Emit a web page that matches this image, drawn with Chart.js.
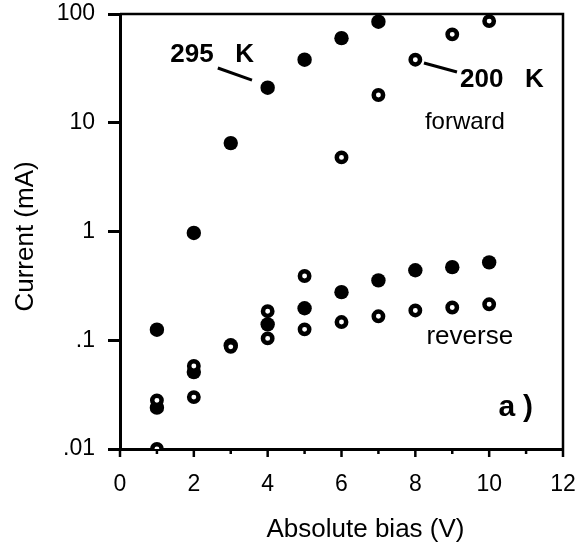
<!DOCTYPE html>
<html><head><meta charset="utf-8">
<script src="https://cdn.jsdelivr.net/npm/chart.js@4/dist/chart.umd.min.js"></script>
<style>html,body{margin:0;padding:0;background:#fff}</style>
</head><body>
<canvas id="c" width="578" height="546" style="display:block;width:578px;height:546px"></canvas>
<script>
// ---- data ----
const fwd295X = [1, 2, 3, 4, 5, 6, 7];
const fwd295Y = [0.125, 0.97, 6.5, 21, 38, 60, 85];
const rev295X = [1, 2, 3, 4, 5, 6, 7, 8, 9, 10];
const rev295Y = [0.024, 0.051, 0.09, 0.14, 0.197, 0.277, 0.355, 0.44, 0.47, 0.52];
const fwd200X = [1, 2, 3, 4, 5, 6, 7, 8, 9, 10];
const fwd200Y = [0.01, 0.058, 0.087, 0.185, 0.39, 4.8, 18, 38, 65, 86];
const rev200X = [1, 2, 4, 5, 6, 7, 8, 9, 10];
const rev200Y = [0.028, 0.030, 0.104, 0.126, 0.147, 0.166, 0.188, 0.20, 0.214];
const yTickValues = [0.01, 0.1, 1, 10, 100];
const yTickLabels = ['.01', '.1', '1', '10', '100'];
const xTickValues = [0, 2, 4, 6, 8, 10, 12];
const xTickLabels = ['0', '2', '4', '6', '8', '10', '12'];
const xTitle = 'Absolute bias (V)';
const yTitle = 'Current (mA)';

const FONT = '"Liberation Sans", Arial, Helvetica, sans-serif';
const pts = (xs, ys) => xs.map((x, i) => ({x: x, y: ys[i]}));

const openStyle = {pointRadius: 4.7, pointBorderWidth: 4.5, pointBackgroundColor: '#fff', pointBorderColor: '#000', showLine: false};
const filledStyle = {pointRadius: 7.2, pointBorderWidth: 0, pointBackgroundColor: '#000', pointBorderColor: '#000', showLine: false};

// annotations (in data units)
const notes = [
  {text: '295   K', x: 1.36, y: 42, font: 'bold 26px ' + FONT, spacing: '0px'},
  {text: '200   K', x: 9.21, y: 24.7, font: 'bold 26px ' + FONT, spacing: '0px'},
  {text: 'forward', x: 8.26, y: 10, font: '24px ' + FONT, spacing: '0px'},
  {text: 'reverse', x: 8.3, y: 0.107, font: '26px ' + FONT, spacing: '0px'},
  {text: 'a)', x: 10.25, y: 0.0238, font: 'bold 30px ' + FONT, spacing: '8px'}
];
const leaders = [
  {x1: 2.65, y1: 31.9, x2: 3.575, y2: 24.7},
  {x1: 8.234, y1: 35.4, x2: 9.128, y2: 29.3}
];

const decor = {
  id: 'decor',
  afterDatasetsDraw(chart) {
    const ctx = chart.ctx, a = chart.chartArea;
    const xs = chart.scales.x, ys = chart.scales.y;
    ctx.save();
    // frame top & right
    ctx.strokeStyle = '#000';
    ctx.lineWidth = 2.5;
    ctx.beginPath();
    ctx.moveTo(a.left, a.top); ctx.lineTo(a.right, a.top); ctx.lineTo(a.right, a.bottom);
    ctx.stroke();
    // x ticks (major even, minor odd)
    for (let v = 0; v <= 12; v++) {
      const px = xs.getPixelForValue(v);
      const len = v % 2 === 0 ? 8 : 5;
      ctx.beginPath(); ctx.moveTo(px, a.bottom); ctx.lineTo(px, a.bottom + len); ctx.stroke();
    }
    // leader lines
    ctx.lineWidth = 3;
    leaders.forEach(l => {
      ctx.beginPath();
      ctx.moveTo(xs.getPixelForValue(l.x1), ys.getPixelForValue(l.y1));
      ctx.lineTo(xs.getPixelForValue(l.x2), ys.getPixelForValue(l.y2));
      ctx.stroke();
    });
    // text notes
    ctx.fillStyle = '#000';
    ctx.textAlign = 'left';
    ctx.textBaseline = 'middle';
    notes.forEach(n => {
      ctx.font = n.font;
      ctx.letterSpacing = n.spacing;
      ctx.fillText(n.text, xs.getPixelForValue(n.x), ys.getPixelForValue(n.y));
    });
    // axis titles
    ctx.letterSpacing = '0px';
    ctx.font = '26px ' + FONT;
    ctx.textAlign = 'center';
    ctx.fillText(xTitle, xs.getPixelForValue(6.65), 530);
    ctx.save();
    ctx.translate(26, ys.getPixelForValue(0.9));
    ctx.rotate(-Math.PI / 2);
    ctx.fillText(yTitle, 0, 0);
    ctx.restore();
    ctx.restore();
  }
};

new Chart(document.getElementById('c'), {
  type: 'scatter',
  data: {
    datasets: [
      Object.assign({label: '200 K forward', data: pts(fwd200X, fwd200Y)}, openStyle),
      Object.assign({label: '200 K reverse', data: pts(rev200X, rev200Y)}, openStyle),
      Object.assign({label: '295 K forward', data: pts(fwd295X, fwd295Y)}, filledStyle),
      Object.assign({label: '295 K reverse', data: pts(rev295X, rev295Y)}, filledStyle)
    ]
  },
  options: {
    responsive: false,
    animation: false,
    devicePixelRatio: 1,
    layout: {padding: {top: 14, right: 15, left: 0, bottom: 0}},
    plugins: {legend: {display: false}, tooltip: {enabled: false}},
    scales: {
      x: {
        type: 'linear', min: 0, max: 12,
        afterFit(s) { s.height = 97; s.paddingLeft = 0; s.paddingRight = 0; },
        afterBuildTicks(s) { s.ticks = xTickValues.map(v => ({value: v})); },
        grid: {display: false, drawTicks: true, tickLength: 8},
        border: {display: true, color: '#000', width: 3},
        ticks: {
          color: '#000', padding: 14, maxRotation: 0, autoSkip: false,
          font: {family: FONT, size: 23},
          callback: (v) => { const i = xTickValues.indexOf(v); return i >= 0 ? xTickLabels[i] : ''; }
        },
        title: {display: false}
      },
      y: {
        type: 'logarithmic', min: 0.01, max: 100,
        afterFit(s) { s.width = 120; s.paddingTop = 0; s.paddingBottom = 0; },
        afterBuildTicks(s) { s.ticks = yTickValues.map(v => ({value: v, major: true})); },
        grid: {display: true, drawOnChartArea: false, drawTicks: true, tickLength: 12, tickWidth: 3, tickColor: '#000'},
        border: {display: true, color: '#000', width: 3},
        ticks: {
          color: '#000', padding: 13, autoSkip: false,
          font: {family: FONT, size: 23},
          callback: (v) => { const i = yTickValues.findIndex(t => Math.abs(t - v) / t < 1e-6); return i >= 0 ? yTickLabels[i] : ''; }
        },
        title: {display: false}
      }
    }
  },
  plugins: [decor]
});
</script>
</body></html>
